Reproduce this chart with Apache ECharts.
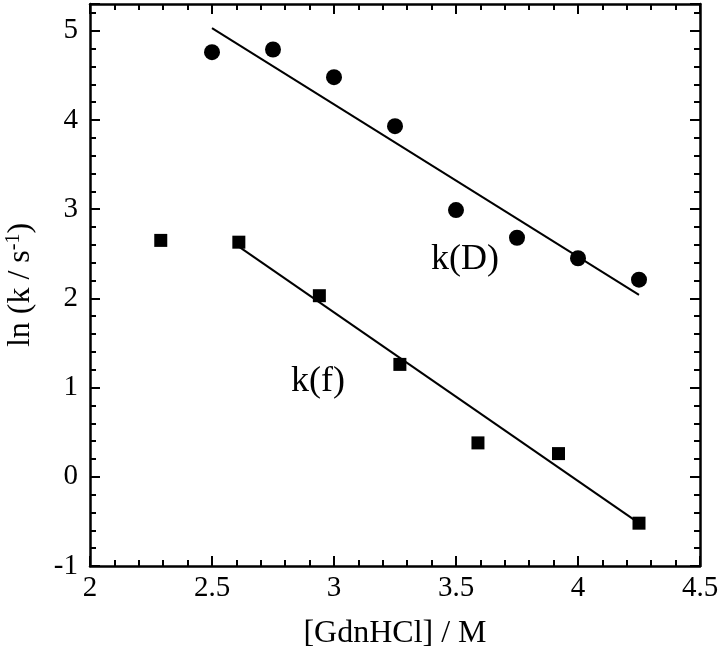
<!DOCTYPE html>
<html>
<head>
<meta charset="utf-8">
<script src="https://cdn.jsdelivr.net/npm/echarts@6/dist/echarts.min.js"></script>
<style>
  html, body { margin: 0; padding: 0; background: #fff; }
  #chart { width: 720px; height: 650px; }
</style>
</head>
<body>
<div id="chart"></div>
<script>
// k(D) points (circles)
const kdX = [2.5, 2.75, 3.0, 3.25, 3.5, 3.75, 4.0, 4.25]
const kdY = [4.76, 4.79, 4.48, 3.93, 2.99, 2.68, 2.45, 2.21]
// k(f) points (squares)
const kfX = [2.29, 2.61, 2.94, 3.27, 3.59, 3.92, 4.25]
const kfY = [2.65, 2.63, 2.03, 1.26, 0.38, 0.26, -0.52]
// fitted lines, end points
const kdFitX = [2.5, 4.25]
const kdFitY = [5.03, 2.04]
const kfFitX = [2.61, 4.25]
const kfFitY = [2.58, -0.52]

const font = 'Liberation Serif'
const pair = (xs, ys) => xs.map((x, i) => [x, ys[i]])

const chart = echarts.init(document.getElementById('chart'))

const axisCommon = {
  axisLine: { onZero: false, lineStyle: { color: '#000', width: 2.5 } },
  axisTick: { inside: true, length: 10, lineStyle: { color: '#000', width: 2 } },
  minorTick: { show: true, splitNumber: 5, length: 6, lineStyle: { color: '#000', width: 2 } },
  splitLine: { show: false }
}

chart.setOption({
  animation: false,
  grid: { left: 90, right: 20, top: 4, bottom: 84, outerBoundsMode: 'none', containLabel: false },
  xAxis: [{
    type: 'value', min: 2, max: 4.5, interval: 0.5, position: 'bottom',
    ...axisCommon,
    axisLabel: { color: '#000', fontFamily: font, fontSize: 29, margin: 8 },
    name: '[GdnHCl] / M', nameLocation: 'middle', nameGap: 52,
    nameTextStyle: { color: '#000', fontFamily: font, fontSize: 32 }
  }, {
    type: 'value', min: 2, max: 4.5, interval: 0.5, position: 'top',
    ...axisCommon, axisLabel: { show: false }
  }],
  yAxis: [{
    type: 'value', min: -1, max: 5.3, interval: 1, position: 'left',
    ...axisCommon,
    axisLabel: { color: '#000', fontFamily: font, fontSize: 29, margin: 12, showMaxLabel: false },
    name: 'ln (k / s{sup|-1})', nameLocation: 'middle', nameGap: 52, nameRotate: 90,
    nameTextStyle: {
      color: '#000', fontFamily: font, fontSize: 32,
      rich: { sup: { fontFamily: font, fontSize: 20, verticalAlign: 'top', padding: [0, 0, 14, 0] } }
    }
  }, {
    type: 'value', min: -1, max: 5.3, interval: 1, position: 'right',
    ...axisCommon, axisLabel: { show: false }
  }],
  series: [{
    name: 'k(D)', type: 'scatter', symbol: 'circle', symbolSize: 16,
    itemStyle: { color: '#000', opacity: 1 }, data: pair(kdX, kdY)
  }, {
    name: 'k(f)', type: 'scatter', symbol: 'rect', symbolSize: 13,
    itemStyle: { color: '#000', opacity: 1 }, data: pair(kfX, kfY)
  }, {
    name: 'k(D) fit', type: 'line', symbol: 'none',
    lineStyle: { color: '#000', width: 2 }, data: pair(kdFitX, kdFitY)
  }, {
    name: 'k(f) fit', type: 'line', symbol: 'none',
    lineStyle: { color: '#000', width: 2 }, data: pair(kfFitX, kfFitY)
  }],
  graphic: [
    { type: 'text', left: 431, top: 242, style: { text: 'k(D)', font: '36px "Liberation Serif"', fill: '#000' } },
    { type: 'text', left: 291, top: 364, style: { text: 'k(f)', font: '36px "Liberation Serif"', fill: '#000' } }
  ]
})
</script>
</body>
</html>
